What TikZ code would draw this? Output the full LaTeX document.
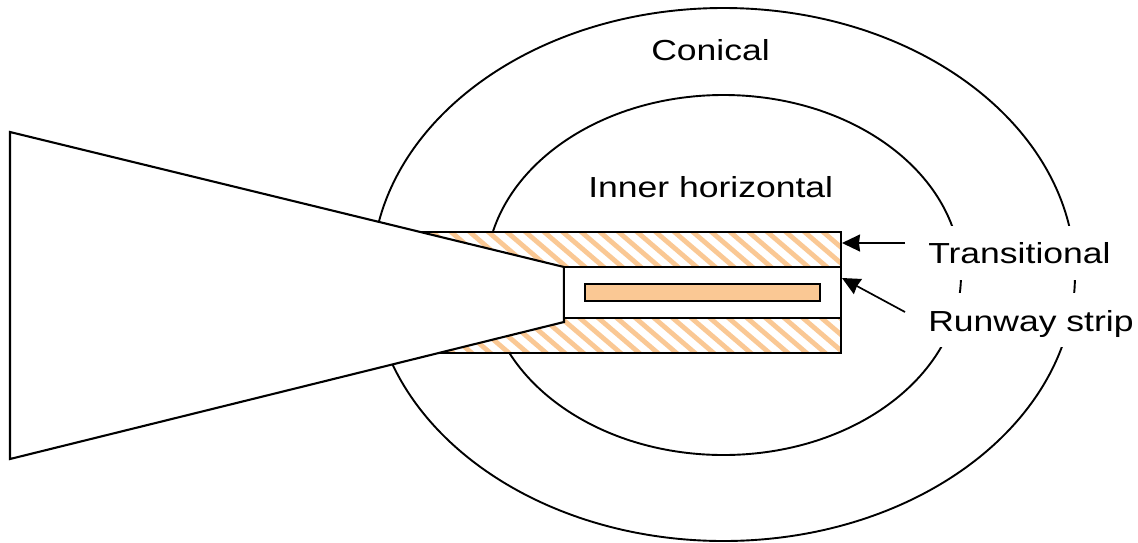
\documentclass[tikz,border=0pt]{standalone}
\usepackage{fontspec}
\setmainfont{Liberation Sans}
\usetikzlibrary{arrows.meta}
\definecolor{peach}{RGB}{250,200,148}
\tikzset{
  outline/.style={draw=black,line width=2.1pt},
  curve/.style={draw=black,line width=1.9pt},
  hatchline/.style={draw=peach,line width=4.8pt},
  lbl/.style={inner sep=0pt,font=\fontsize{29}{29}\selectfont,xscale=1.225,transform shape,anchor=base west},
  pointer/.style={draw=black,line width=1.7pt,-{Stealth[length=18pt,width=17pt,inset=1pt]}},
  mask/.style={fill=white,draw=none}
}
\begin{document}
\begin{tikzpicture}[x=1pt,y=-1pt]
\useasboundingbox (0,0) rectangle (1138,542);
\fill[white] (0,0) rectangle (1138,542);
% surfaces
\draw[curve] (723.5,274.5) ellipse [x radius=351.5,y radius=266.5];
\draw[curve] (723.5,275) ellipse [x radius=237.5,y radius=180];
% gaps beside the labels
\fill[mask] (905,226) rectangle (1138,280);
\fill[mask] (905,293) rectangle (1138,347);
% hatched transitional bands
\fill[white] (418,232) rectangle (841,353);
\begin{scope}
  \clip (418,232) -- (841,232) -- (841,267) -- (564,267) -- cycle;
  \foreach \i in {0,...,26} \draw[hatchline] ({400+18.6*\i},220) -- ++(70,60);
\end{scope}
\begin{scope}
  \clip (440,353) -- (841,353) -- (841,318) -- (564,318) -- cycle;
  \foreach \i in {0,...,26} \draw[hatchline] ({360+18.6*\i},305) -- ++(70,60);
\end{scope}
\draw[outline] (418,232) -- (841,232) -- (841,353) -- (440,353);
% approach surface
\filldraw[fill=white,outline,line join=miter] (10,132) -- (564,267) -- (564,322) -- (10,459) -- cycle;
% strip
\node[draw=black,line width=2.1pt,fill=white,outer sep=0pt,minimum width=277pt,minimum height=51pt,inner sep=0pt,anchor=north west] (strip) at (564,267) {};
\node[draw=black,line width=2.4pt,fill=peach,outer sep=0pt,minimum width=235pt,minimum height=17pt,inner sep=0pt,anchor=north west] (runway) at (585,284) {};
% labels
\node[lbl] (conical) at (651,60) {Conical};
\node[lbl] (inner) at (588,197) {Inner horizontal};
\node[lbl] (trans) at (928,263) {Transitional};
\node[lbl] (rstrip) at (928,331) {Runway strip};
% pointers
\coordinate (tfrom) at (905,243);
\coordinate (tto) at (842,243);
\coordinate (rfrom) at (905,312);
\coordinate (rto) at (842,278);
\draw[pointer] (tfrom) -- (tto);
\draw[pointer] (rfrom) -- (rto);
\end{tikzpicture}
\end{document}
